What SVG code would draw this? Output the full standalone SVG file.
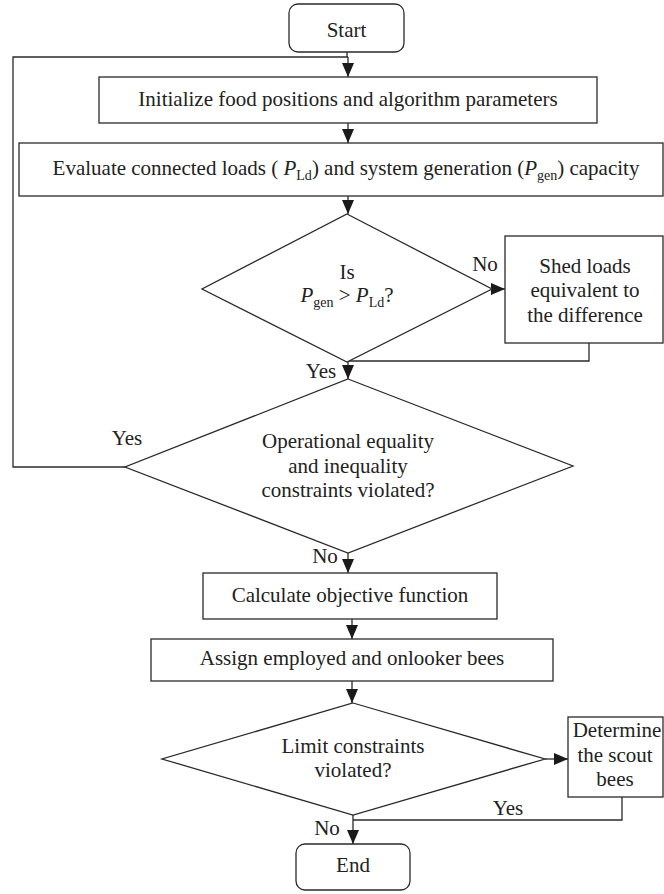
<svg xmlns="http://www.w3.org/2000/svg" width="664" height="894" viewBox="0 0 664 894">
<style>
.box{fill:#fff;stroke:#2a2a2a;stroke-width:1.3}
.ln{fill:none;stroke:#2a2a2a;stroke-width:1.3}
text{font-family:"Liberation Serif","Times New Roman",serif;font-size:21px;fill:#222;text-anchor:middle}
.it{font-style:italic}
.sub{font-size:14px}
</style>
<defs>
<marker id="ah" viewBox="0 0 14 12" refX="14" refY="6" markerWidth="14" markerHeight="12" markerUnits="userSpaceOnUse" orient="auto">
<path d="M0,0 L14,6 L0,12 Z" fill="#1a1a1a"/>
</marker>
</defs>
<g id="connectors">
<path class="ln" d="M347,52 V57 M348,57 V77" marker-end="url(#ah)"/>
<path class="ln" d="M125,467 H13 V57 H348"/>
<path class="ln" d="M348,123 V143" marker-end="url(#ah)"/>
<path class="ln" d="M348,196 V214" marker-end="url(#ah)"/>
<path class="ln" d="M492,289 H505" marker-end="url(#ah)"/>
<path class="ln" d="M589,343 V361 H348"/>
<path class="ln" d="M348,361 V379" marker-end="url(#ah)"/>
<path class="ln" d="M348,553 V573" marker-end="url(#ah)"/>
<path class="ln" d="M352,619 V639" marker-end="url(#ah)"/>
<path class="ln" d="M352,681 V703" marker-end="url(#ah)"/>
<path class="ln" d="M545,759 H568" marker-end="url(#ah)"/>
<path class="ln" d="M622,797 V820 H353"/>
<path class="ln" d="M353,815 V844" marker-end="url(#ah)"/>
<text x="485" y="271">No</text>
<text x="321" y="378">Yes</text>
<text x="127" y="445">Yes</text>
<text x="325" y="563">No</text>
<text x="508" y="815">Yes</text>
<text x="327" y="835">No</text>
</g>
<g id="start">
<rect class="box" x="289" y="4" width="115" height="48" rx="9"/>
<text x="346.5" y="37">Start</text>
</g>
<g id="init">
<rect class="box" x="99" y="77" width="498" height="46"/>
<text x="348" y="106">Initialize food positions and algorithm parameters</text>
</g>
<g id="evaluate">
<rect class="box" x="19" y="143" width="644" height="53"/>
<text x="346" y="175">Evaluate connected loads ( <tspan class="it">P</tspan><tspan class="sub" dy="5">Ld</tspan><tspan dy="-5">) and system generation (</tspan><tspan class="it">P</tspan><tspan class="sub" dy="5">gen</tspan><tspan dy="-5">) capacity</tspan></text>
</g>
<g id="decision1">
<polygon class="box" points="347,214 492,289 347,362 202,289"/>
<text x="347" y="279">Is</text>
<text x="347" y="302"><tspan class="it">P</tspan><tspan class="sub" dy="5">gen</tspan><tspan dy="-5"> &gt; </tspan><tspan class="it">P</tspan><tspan class="sub" dy="5">Ld</tspan><tspan dy="-5">?</tspan></text>
</g>
<g id="shed">
<rect class="box" x="505" y="236" width="158" height="107"/>
<text x="585" y="273">Shed loads</text>
<text x="585" y="297">equivalent to</text>
<text x="585" y="322">the difference</text>
</g>
<g id="decision2">
<polygon class="box" points="348,379 573,466 348,553 125,467"/>
<text x="348" y="448">Operational equality</text>
<text x="348" y="473">and inequality</text>
<text x="348" y="497">constraints violated?</text>
</g>
<g id="calc">
<rect class="box" x="203" y="573" width="294" height="46"/>
<text x="350" y="602">Calculate objective function</text>
</g>
<g id="assign">
<rect class="box" x="151" y="639" width="402" height="42"/>
<text x="352" y="665">Assign employed and onlooker bees</text>
</g>
<g id="decision3">
<polygon class="box" points="353,703 545,759 353,815 162,759"/>
<text x="353" y="753">Limit constraints</text>
<text x="353" y="777">violated?</text>
</g>
<g id="scout">
<rect class="box" x="568" y="717" width="95" height="80"/>
<text x="617" y="737">Determine</text>
<text x="615" y="762">the scout</text>
<text x="615" y="786">bees</text>
</g>
<g id="end">
<rect class="box" x="296" y="844" width="114" height="46" rx="9"/>
<text x="353" y="872">End</text>
</g>
</svg>
